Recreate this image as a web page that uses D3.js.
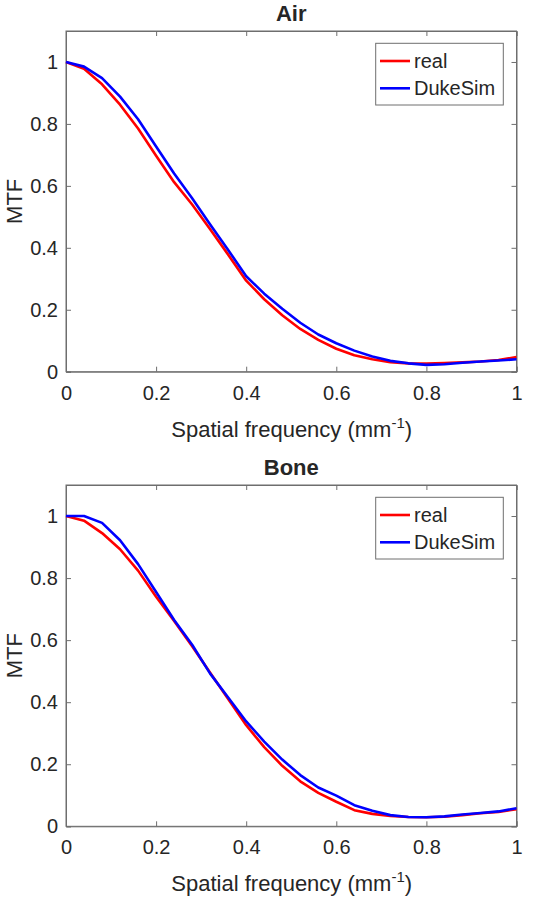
<!DOCTYPE html>
<html>
<head>
<meta charset="utf-8">
<script src="https://cdn.jsdelivr.net/npm/d3@7"></script>
<style>
  html, body { margin: 0; padding: 0; background: #fff; }
  svg { display: block; }
  text { font-family: "Liberation Sans", Arial, Helvetica, sans-serif; fill: #262626; }
</style>
</head>
<body>
<svg id="chart" width="537" height="900"></svg>
<script>
// ---- data ----
const freq = [0, 0.04, 0.08, 0.12, 0.16, 0.20, 0.24, 0.28, 0.32, 0.36, 0.40, 0.44, 0.48,
              0.52, 0.56, 0.60, 0.64, 0.68, 0.72, 0.76, 0.80, 0.84, 0.88, 0.92, 0.96, 1.00];

const airReal = [1.000, 0.978, 0.928, 0.862, 0.785, 0.697, 0.612, 0.540, 0.460, 0.378, 0.294, 0.234, 0.182,
                 0.138, 0.103, 0.074, 0.053, 0.040, 0.031, 0.027, 0.026, 0.028, 0.030, 0.033, 0.038, 0.047];
const airDuke = [1.000, 0.985, 0.948, 0.888, 0.815, 0.727, 0.640, 0.560, 0.475, 0.393, 0.308, 0.252, 0.203,
                 0.158, 0.120, 0.092, 0.068, 0.049, 0.035, 0.027, 0.022, 0.024, 0.029, 0.033, 0.036, 0.040];

const boneReal = [1.000, 0.985, 0.945, 0.893, 0.824, 0.740, 0.662, 0.580, 0.495, 0.410, 0.326, 0.255, 0.195,
                  0.145, 0.108, 0.079, 0.052, 0.040, 0.033, 0.030, 0.029, 0.031, 0.036, 0.042, 0.046, 0.055];
const boneDuke = [1.000, 1.000, 0.978, 0.922, 0.845, 0.755, 0.665, 0.585, 0.492, 0.415, 0.338, 0.273, 0.215,
                  0.165, 0.125, 0.099, 0.068, 0.050, 0.036, 0.030, 0.029, 0.032, 0.038, 0.043, 0.048, 0.058];

const xTicks = [0, 0.2, 0.4, 0.6, 0.8, 1];
const yTicks = [0, 0.2, 0.4, 0.6, 0.8, 1];
const seriesNames = ["real", "DukeSim"];
const seriesColors = ["#ff0000", "#0000ff"];
const panels = [
  { title: "Air",  real: airReal,  duke: airDuke,  top: 31,  bottom: 371.7 },
  { title: "Bone", real: boneReal, duke: boneDuke, top: 485, bottom: 826.3 }
];

// ---- drawing ----
const svg = d3.select("#chart");
const left = 66, right = 516.5;
const fs = 20;      // tick / legend font size
const lfs = 22;     // axis label font size
const fmt = d => (d === 0 || d === 1) ? String(d) : d.toFixed(1);

panels.forEach(p => {
  const x = d3.scaleLinear().domain([0, 1]).range([left, right]);
  const y = d3.scaleLinear().domain([0, 1.1]).range([p.bottom, p.top]);
  const g = svg.append("g");

  // plot box
  g.append("rect")
    .attr("x", left).attr("y", p.top)
    .attr("width", right - left).attr("height", p.bottom - p.top)
    .attr("fill", "#fff").attr("stroke", "#6e6e6e").attr("stroke-width", 1);

  // axes (inside ticks on all four sides)
  const xb = g.append("g").attr("transform", `translate(0,${p.bottom})`)
    .call(d3.axisBottom(x).tickValues(xTicks).tickSize(-5).tickPadding(14).tickFormat(fmt));
  const xt = g.append("g").attr("transform", `translate(0,${p.top})`)
    .call(d3.axisTop(x).tickValues(xTicks).tickSize(-5).tickFormat(""));
  const yl = g.append("g").attr("transform", `translate(${left},0)`)
    .call(d3.axisLeft(y).tickValues(yTicks).tickSize(-5).tickPadding(8).tickFormat(fmt));
  const yr = g.append("g").attr("transform", `translate(${right},0)`)
    .call(d3.axisRight(y).tickValues(yTicks).tickSize(-5).tickFormat(""));
  [xb, xt, yl, yr].forEach(a => {
    a.select(".domain").attr("stroke", "#6e6e6e");
    a.selectAll(".tick line").attr("stroke", "#6e6e6e");
    a.selectAll(".tick text").attr("font-size", fs).attr("fill", "#262626")
      .attr("font-family", "'Liberation Sans', Arial, sans-serif");
  });
  xb.selectAll(".tick text").attr("dy", "0.71em");

  // lines
  const line = d3.line().x((d, i) => x(freq[i])).y(d => y(d));
  [p.real, p.duke].forEach((s, k) => {
    g.append("path").datum(s)
      .attr("fill", "none").attr("stroke", seriesColors[k])
      .attr("stroke-width", 2.6).attr("stroke-linejoin", "round")
      .attr("d", line);
  });

  // title
  g.append("text").attr("x", (left + right) / 2).attr("y", p.top - 10.3)
    .attr("text-anchor", "middle").attr("font-size", 22).attr("font-weight", "bold")
    .attr("fill", "#000").text(p.title);

  // x label
  const xlab = g.append("text").attr("x", (left + right) / 2 + 0.5).attr("y", p.bottom + 65)
    .attr("text-anchor", "middle").attr("font-size", lfs);
  xlab.append("tspan").text("Spatial frequency (mm");
  xlab.append("tspan").attr("font-size", 15).attr("dy", -9).text("-1");
  xlab.append("tspan").attr("dy", 9).text(")");

  // y label
  g.append("text")
    .attr("transform", `translate(22,${(p.top + p.bottom) / 2}) rotate(-90)`)
    .attr("text-anchor", "middle").attr("font-size", lfs).text("MTF");

  // legend
  const lx = 375.7, ly = p.top + 12.3, lw = 127.6, lh = 61.7;
  const lg = g.append("g");
  lg.append("rect").attr("x", lx).attr("y", ly).attr("width", lw).attr("height", lh)
    .attr("fill", "#fff").attr("stroke", "#6e6e6e").attr("stroke-width", 1);
  seriesNames.forEach((n, k) => {
    const cy = ly + 17.7 + k * 27.3;
    lg.append("line").attr("x1", lx + 4.3).attr("x2", lx + 34.3).attr("y1", cy).attr("y2", cy)
      .attr("stroke", seriesColors[k]).attr("stroke-width", 2.6);
    lg.append("text").attr("x", lx + 38.3).attr("y", cy + 7).attr("font-size", fs).text(n);
  });
});
</script>
</body>
</html>
